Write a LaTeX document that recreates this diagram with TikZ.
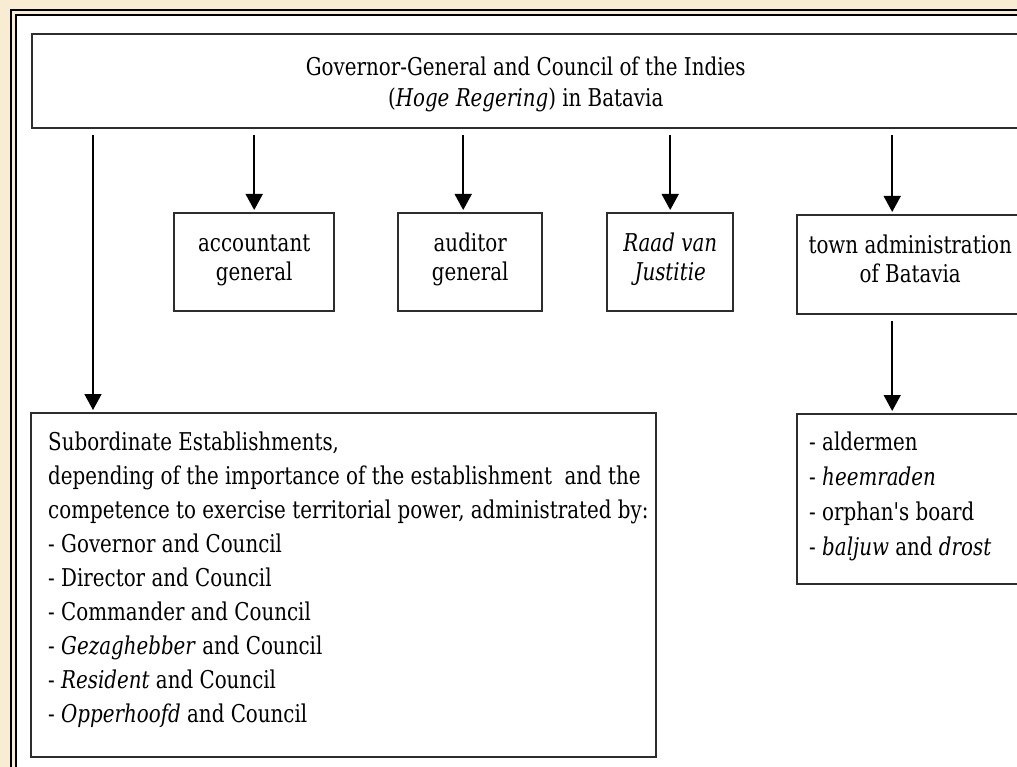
\documentclass[tikz,border=0pt]{standalone}
\usepackage{fontspec}
\setmainfont{DejaVu Serif}[FakeStretch=0.81, Ligatures=TeXOff]
\usetikzlibrary{arrows.meta}
\definecolor{beige}{RGB}{248,236,210}
\definecolor{boxline}{RGB}{45,45,45}
\newcommand{\topsz}{\fontsize{24.5pt}{31pt}\selectfont}
\newcommand{\midsz}{\fontsize{24.5pt}{29pt}\selectfont}
\newcommand{\subsz}{\fontsize{24.5pt}{34pt}\selectfont}
\newcommand{\aldsz}{\fontsize{24.5pt}{35pt}\selectfont}
\begin{document}
\begin{tikzpicture}[x=1pt,y=-1pt,
  box/.style={draw=boxline, line width=2.4pt, fill=white, inner sep=0pt},
  arr/.style={line width=1.6pt, draw=black, -{Triangle[length=16pt,width=17pt]}, shorten <=6pt, shorten >=2pt}]
\useasboundingbox (0,0) rectangle (1017,767);
\clip (0,0) rectangle (1017,767);
% background and frame
\fill[beige] (0,0) rectangle (1017,767);
\fill[white] (16,15) rectangle (1040,790);
\draw[black, line width=2.2pt] (11,10) rectangle (1040,790);
\draw[black, line width=2.2pt] (16,15) rectangle (1040,790);
% top box (33..127)
\node[box, anchor=north west] (top) at (31,33)
  {\parbox[c][94pt][t]{987pt}{\centering\topsz\vspace*{20pt}\strut Governor-General and Council of the Indies\\(\textit{Hoge Regering}) in Batavia}};
% middle boxes
\node[box, anchor=north west] (acc) at (173,212)
  {\parbox[c][98pt][t]{160pt}{\centering\midsz\vspace*{18pt}\strut accountant\\general}};
\node[box, anchor=north west] (aud) at (397,212)
  {\parbox[c][98pt][t]{144pt}{\centering\midsz\vspace*{18pt}\strut auditor\\general}};
\node[box, anchor=north west] (raad) at (606,212)
  {\parbox[c][98pt][t]{126pt}{\centering\midsz\vspace*{18pt}\strut\textit{Raad van}\\\textit{Justitie}}};
\node[box, anchor=north west] (town) at (796,214)
  {\parbox[c][99pt][t]{226pt}{\centering\midsz\vspace*{18pt}\strut town administration\\of Batavia}};
% bottom boxes
\node[box, anchor=north west, inner xsep=17pt] (sub) at (30,412)
  {\parbox[c][344pt][t]{591pt}{\raggedright\subsz\vspace*{13pt}\strut
  \mbox{Subordinate Establishments,}\\
  \mbox{depending of the importance of the establishment\ \ and the}\\
  \mbox{competence to exercise territorial power, administrated by:}\\
  \mbox{- Governor and Council}\\
  \mbox{- Director and Council}\\
  \mbox{- Commander and Council}\\
  \mbox{- \textit{Gezaghebber} and Council}\\
  \mbox{- \textit{Resident} and Council}\\
  \mbox{- \textit{Opperhoofd} and Council}}};
\node[box, anchor=north west, inner xsep=12pt] (aldr) at (796,413)
  {\parbox[c][170pt][t]{202pt}{\raggedright\aldsz\vspace*{12pt}\strut
  - aldermen\\
  - \textit{heemraden}\\
  - orphan's board\\
  - \textit{baljuw} and \textit{drost}}};
% connectors
\draw[arr] ([xshift=63pt]sub.north west |- top.south) -- ([xshift=63pt]sub.north west);
\draw[arr] (acc.north |- top.south) -- (acc.north);
\draw[arr] ([xshift=-7pt]aud.north |- top.south) -- ([xshift=-7pt]aud.north);
\draw[arr] (raad.north |- top.south) -- (raad.north);
\draw[arr] ([xshift=-18pt]town.north |- top.south) -- ([xshift=-18pt]town.north);
\draw[arr] ([xshift=-18pt]town.south) -- ([xshift=-18pt]town.south |- aldr.north);
\end{tikzpicture}
\end{document}
